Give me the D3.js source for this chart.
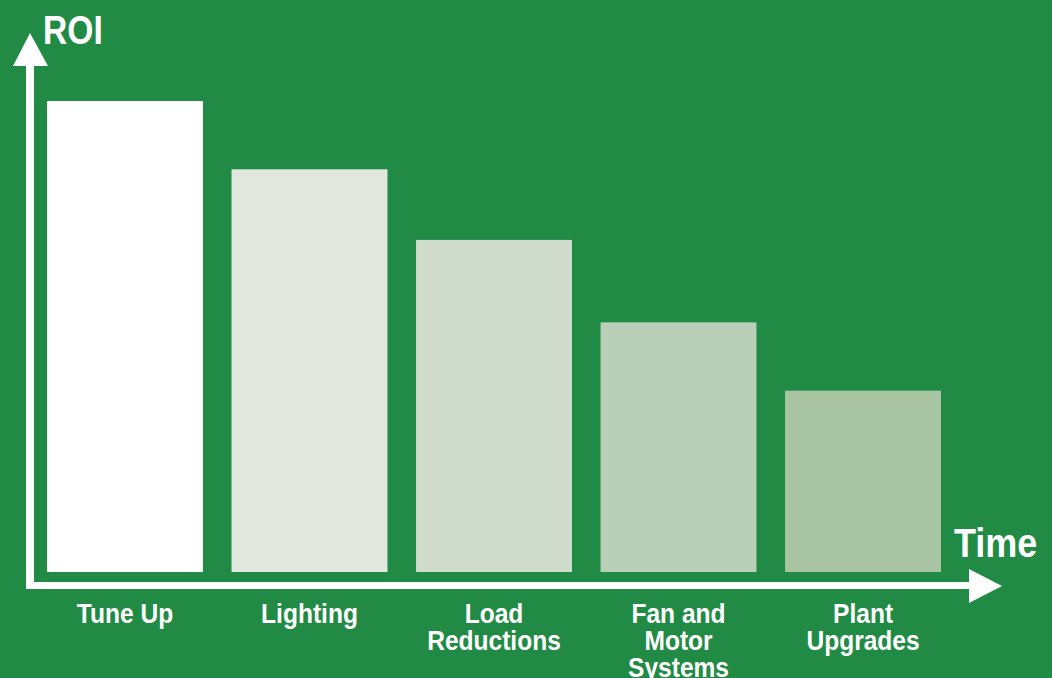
<!DOCTYPE html>
<html>
<head>
<meta charset="utf-8">
<script src="https://cdn.jsdelivr.net/npm/d3@7"></script>
<style>
  html, body { margin: 0; padding: 0; background: #218a45; }
  svg { display: block; }
  text { font-family: "Liberation Sans", Arial, sans-serif; font-weight: bold; fill: #fff; }
</style>
</head>
<body>
<svg id="chart"></svg>
<script>
// categories, one label line per array entry
var categories = ["Tune Up", "Lighting", "Load Reductions", "Fan and Motor Systems", "Plant Upgrades"];
var labelLines = [["Tune Up"], ["Lighting"], ["Load", "Reductions"], ["Fan and", "Motor", "Systems"], ["Plant", "Upgrades"]];
// relative ROI, tallest bar = 100
var roiValues = [100, 85.5, 70.5, 53, 38.5];
var barColors = ["#ffffff", "#e2e8df", "#d0dccb", "#bacfb7", "#a8c4a2"];
var yTitle = "ROI",
    xTitle = "Time";

function RoiChart() {

  var width = 1052,
      height = 678,
      svg = null;

  function chart(selection) {
    svg = selection;
    svg.attr("width", width).attr("height", height);

    var x = d3.scaleBand()
      .domain(categories)
      .range([47, 941])
      .paddingInner(0.155)
      .paddingOuter(0);

    var y = d3.scaleLinear()
      .domain([0, 100])
      .range([572, 101]);

    drawBars(x, y);
    drawAxes();
    drawLabels(x);
  }

  function drawBars(x, y) {
    svg.append("g")
      .selectAll("rect")
      .data(categories)
      .enter()
      .append("rect")
      .attr("x", function(d) { return x(d); })
      .attr("y", function(d, i) { return y(roiValues[i]); })
      .attr("width", x.bandwidth())
      .attr("height", function(d, i) { return y(0) - y(roiValues[i]); })
      .attr("fill", function(d, i) { return barColors[i]; });
  }

  function drawAxes() {
    var g = svg.append("g").attr("fill", "#fff");

    // vertical shaft + arrow head
    g.append("rect").attr("x", 26).attr("y", 64).attr("width", 8).attr("height", 525);
    g.append("path").attr("d", "M13,66 L48,66 L30,33 Z");

    // horizontal shaft + arrow head
    g.append("rect").attr("x", 26).attr("y", 582).attr("width", 945).attr("height", 7);
    g.append("path").attr("d", "M969,569 L969,603 L1002,586 Z");

    // condensed look: squeeze the bold face horizontally
    svg.append("text")
      .attr("transform", "translate(43,44) scale(0.84,1)")
      .attr("font-size", 40)
      .text(yTitle);

    svg.append("text")
      .attr("transform", "translate(954,557) scale(0.9,1)")
      .attr("font-size", 40)
      .text(xTitle);
  }

  function drawLabels(x) {
    var lineHeight = 27.5;
    svg.append("g")
      .selectAll("text")
      .data(categories)
      .enter()
      .append("text")
      .attr("text-anchor", "middle")
      .attr("font-size", 27)
      .attr("transform", function(d) {
        return "translate(" + (x(d) + x.bandwidth() / 2) + ",622.5) scale(0.91,1)";
      })
      .each(function(d, i) {
        var t = d3.select(this);
        labelLines[i].forEach(function(line, k) {
          t.append("tspan")
            .attr("x", 0)
            .attr("y", k * lineHeight)
            .text(line);
        });
      });
  }

  return chart;
}

d3.select("#chart").call(RoiChart());
</script>
</body>
</html>
